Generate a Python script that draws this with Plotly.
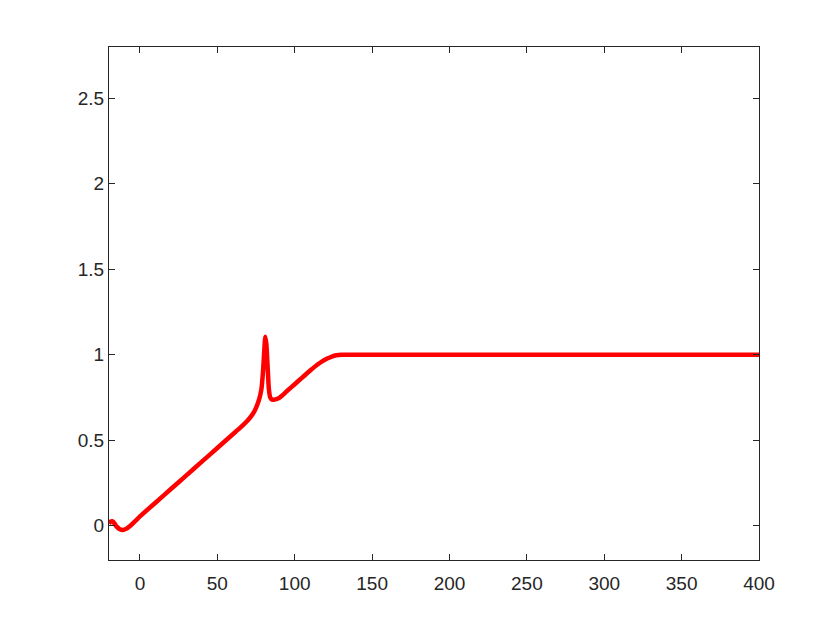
import plotly.graph_objects as go

# Data
x_vals = [-20, -19, -18, -17, -15, -13, -11, -9, -6, -3, 0, 10, 20, 30, 40, 50, 60, 65, 70,
          73, 75, 77, 78.5, 79.5, 80.3, 81, 81.7, 82.5, 83.3, 84.2, 85.5, 87, 90, 95, 100,
          105, 110, 115, 118, 121, 124, 127, 130, 135, 150, 200, 250, 300, 350, 400]
y_vals = [0.012, 0.024, 0.027, 0.02, -0.005, -0.02, -0.024, -0.018, 0.002, 0.028, 0.055,
          0.135, 0.215, 0.295, 0.375, 0.455, 0.535, 0.575, 0.62, 0.655, 0.69, 0.74, 0.80,
          0.90, 1.02, 1.105, 1.06, 0.93, 0.80, 0.75, 0.737, 0.738, 0.748, 0.788, 0.828,
          0.868, 0.908, 0.945, 0.963, 0.978, 0.99, 0.997, 1.0, 1.0, 1.0, 1.0, 1.0, 1.0, 1.0, 1.0]

x_ticks = [0, 50, 100, 150, 200, 250, 300, 350, 400]
y_ticks = [0, 0.5, 1, 1.5, 2, 2.5]
y_tick_labels = ["0", "0.5", "1", "1.5", "2", "2.5"]

fig = go.Figure()
fig.add_trace(go.Scatter(x=x_vals, y=y_vals, mode="lines", cliponaxis=False,
                         line=dict(color="#ff0000", width=4.5, shape="spline", smoothing=0.6),
                         showlegend=False))

axis_common = dict(showline=True, linecolor="#262626", linewidth=1, mirror="ticks",
                   ticks="inside", ticklen=6, tickcolor="#262626", tickwidth=1,
                   showgrid=False, zeroline=False,
                   tickfont=dict(family="Arial, Liberation Sans, sans-serif", size=19, color="#262626"))

fig.update_layout(
    width=840, height=630,
    margin=dict(l=101, r=89, t=39, b=78),
    paper_bgcolor="white", plot_bgcolor="white",
    xaxis=dict(range=[-20, 400], tickvals=x_ticks, ticklabelstandoff=6, **axis_common),
    yaxis=dict(range=[-0.2, 2.8], tickvals=y_ticks, ticktext=y_tick_labels, **axis_common),
)

fig.write_html("out.html")
